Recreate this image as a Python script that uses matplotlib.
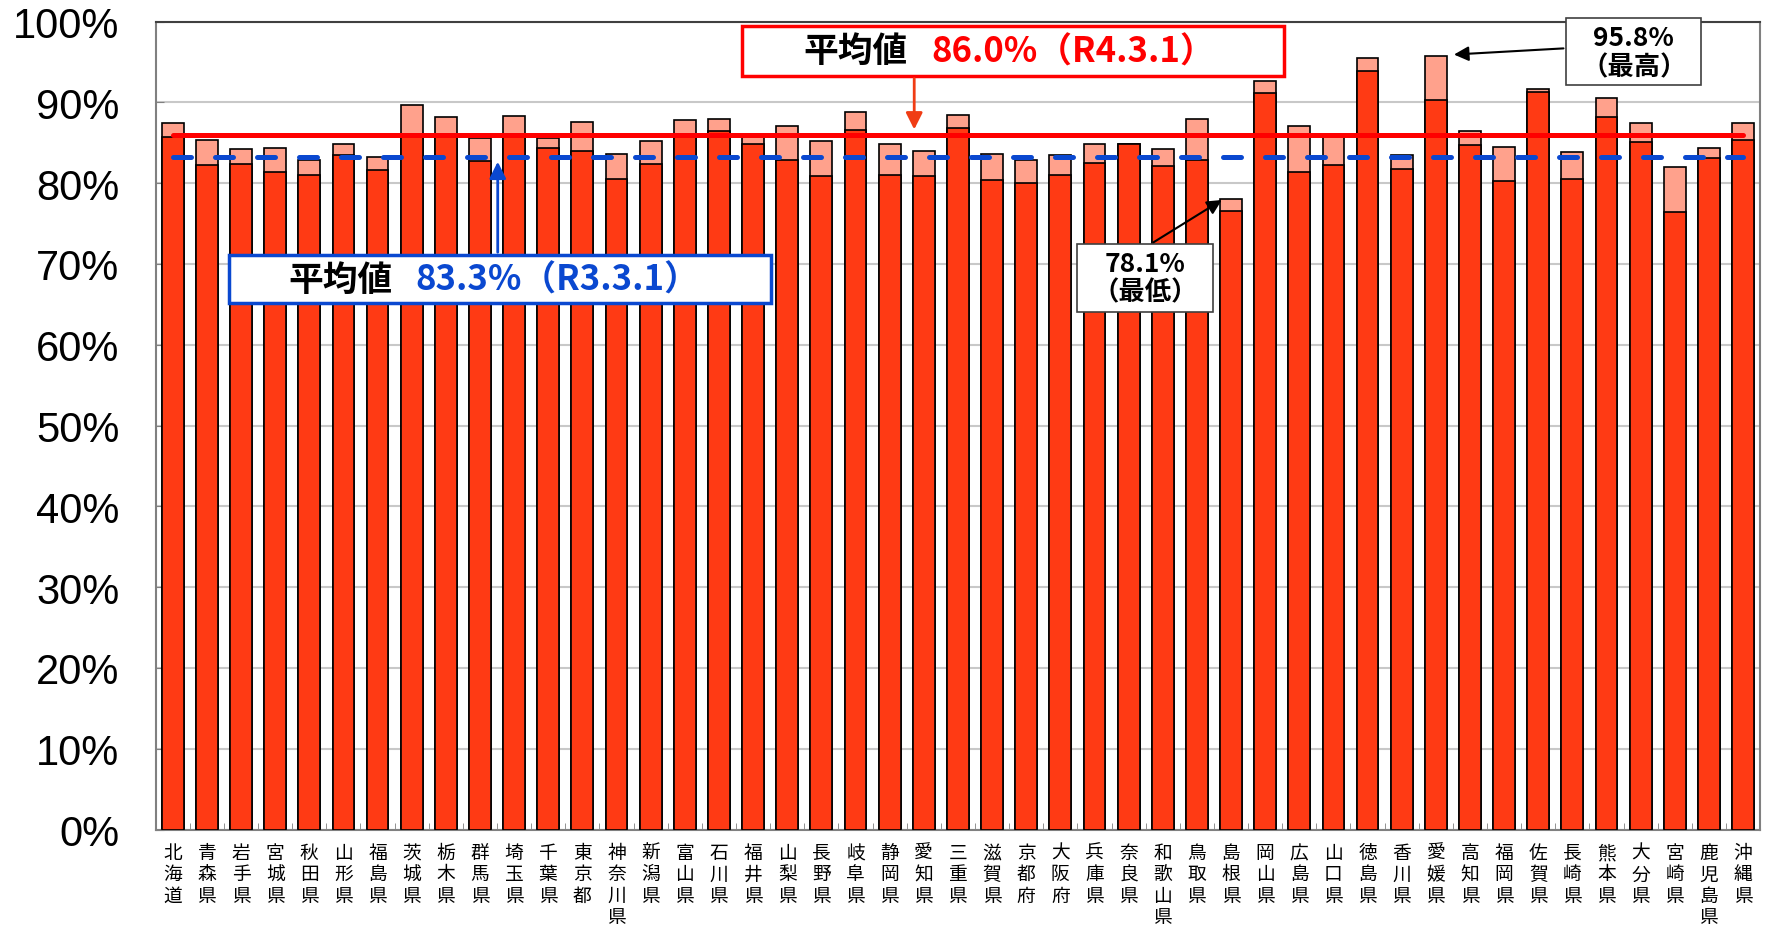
import numpy as np
import matplotlib
matplotlib.use("Agg")
from matplotlib import pyplot as plt
from matplotlib.patches import Rectangle

plt.rcParams['font.family'] = ['Noto Sans CJK JP', 'DejaVu Sans']

prefs = ['北海道', '青森県', '岩手県', '宮城県', '秋田県', '山形県', '福島県', '茨城県',
         '栃木県', '群馬県', '埼玉県', '千葉県', '東京都', '神奈川県', '新潟県', '富山県',
         '石川県', '福井県', '山梨県', '長野県', '岐阜県', '静岡県', '愛知県', '三重県',
         '滋賀県', '京都府', '大阪府', '兵庫県', '奈良県', '和歌山県', '鳥取県', '島根県',
         '岡山県', '広島県', '山口県', '徳島県', '香川県', '愛媛県', '高知県', '福岡県',
         '佐賀県', '長崎県', '熊本県', '大分県', '宮崎県', '鹿児島県', '沖縄県']

# R4.3.1 (pink top) and R3.3.1 (dark part)
r4 = [87.4, 85.3, 84.2, 84.3, 82.9, 84.8, 83.3, 89.7, 88.2, 85.6, 88.3, 85.6,
      87.6, 83.6, 85.2, 87.8, 87.9, 85.9, 87.1, 85.2, 88.8, 84.8, 84.0, 88.4,
      83.6, 82.9, 83.5, 84.9, 84.9, 84.2, 88.0, 78.1, 92.6, 87.1, 85.9, 95.5,
      83.5, 95.8, 86.4, 84.5, 91.7, 83.9, 90.5, 87.4, 82.0, 84.4, 87.5]
r3 = [85.7, 82.2, 82.4, 81.4, 81.0, 83.5, 81.6, 86.0, 86.0, 82.7, 85.7, 84.4,
      84.0, 80.5, 82.4, 86.0, 86.5, 84.9, 82.9, 80.9, 86.6, 81.0, 80.9, 86.8,
      80.4, 80.0, 81.0, 82.5, 84.9, 82.1, 82.9, 76.5, 91.1, 81.4, 82.3, 93.9,
      81.7, 90.3, 84.7, 80.3, 91.3, 80.5, 88.2, 85.1, 76.4, 83.1, 85.3]

avg_r4 = 86.0
avg_r3 = 83.3
yticks = [0, 10, 20, 30, 40, 50, 60, 70, 80, 90, 100]

dark = '#FF3A14'
pink = '#FFA18C'
blue = '#0A48D0'

fig = plt.figure(figsize=(17.69, 9.29), dpi=100)
ax = fig.add_axes([0.088, 0.106, 0.907, 0.8697])

x = np.arange(len(prefs))
ax.bar(x, r4, width=0.64, color=pink, edgecolor='black', linewidth=1.2, zorder=2)
ax.bar(x, r3, width=0.64, color=dark, edgecolor='black', linewidth=1.2, zorder=3)

# average lines
ax.plot([x[0], x[-1]], [avg_r4, avg_r4], color='#FF0000', lw=3.6,
        solid_capstyle='round', zorder=5)
ax.plot([x[0], x[-1]], [avg_r3, avg_r3], color=blue, lw=3.6,
        dashes=(3.6, 4.8), dash_capstyle='round', zorder=5)

ax.set_xlim(-0.5, 46.5)
ax.set_ylim(0, 100)
ax.set_yticks(yticks)
ax.set_yticklabels([f'{v}%' for v in yticks], fontsize=30,
                   family=['Liberation Sans', 'DejaVu Sans'])
ax.set_xticks(x)
ax.set_xticklabels(['\n'.join(p) for p in prefs], fontsize=13.5, linespacing=1.02,
                   va='top')
ax.set_xticks(np.arange(-0.5, 47, 1), minor=True)
ax.tick_params(axis='y', direction='in', length=6, color='#808080', pad=26)
ax.tick_params(axis='x', which='major', length=0, pad=9)
ax.tick_params(axis='x', which='minor', direction='in', length=5, color='#808080')
ax.grid(axis='y', color='#C8C8C8', lw=1.5, zorder=0)
ax.set_axisbelow(True)
for s in ax.spines.values():
    s.set_color('#808080')
    s.set_linewidth(1.5)
ax.spines['top'].set_color('#404040')

# R4 average box
ax.add_patch(Rectangle((16.68, 93.3), 15.88, 6.2, facecolor='white',
                       edgecolor='#FF0000', lw=2.5, zorder=6, clip_on=False))
ax.text(21.54, 96.4, '平均値', ha='right', va='center', fontsize=25,
        fontweight='bold', zorder=7)
ax.text(22.22, 96.4, '86.0%（R4.3.1）', ha='left', va='center', fontsize=25,
        fontweight='bold', color='#FF0000', zorder=7)
ax.annotate('', xy=(21.72, avg_r4 + 0.3), xytext=(21.72, 93.3),
            arrowprops=dict(arrowstyle='-|>', color='#F03C14', lw=2,
                            mutation_scale=25), zorder=6)

# R3 average box
ax.add_patch(Rectangle((1.65, 65.2), 15.88, 5.9, facecolor='white',
                       edgecolor=blue, lw=2.5, zorder=6))
ax.text(6.45, 68.1, '平均値', ha='right', va='center', fontsize=25,
        fontweight='bold', zorder=7)
ax.text(7.1, 68.1, '83.3%（R3.3.1）', ha='left', va='center', fontsize=25,
        fontweight='bold', color=blue, zorder=7)
ax.annotate('', xy=(9.52, avg_r3 - 0.3), xytext=(9.52, 71.1),
            arrowprops=dict(arrowstyle='-|>', color=blue, lw=2,
                            mutation_scale=25), zorder=6)

# min box
ax.add_patch(Rectangle((26.49, 64.1), 3.99, 8.4, facecolor='white',
                       edgecolor='#404040', lw=1.2, zorder=6))
ax.text(28.48, 68.3, '78.1%\n（最低）', ha='center', va='center', fontsize=19,
        fontweight='bold', linespacing=1.1, zorder=7)
ax.annotate('', xy=(30.8, 78.1), xytext=(28.66, 72.5),
            arrowprops=dict(arrowstyle='-|>', color='black', lw=1.5,
                            mutation_scale=22), zorder=6)

# max box
ax.add_patch(Rectangle((40.82, 92.1), 3.96, 8.3, facecolor='white',
                       edgecolor='#404040', lw=1.2, zorder=6, clip_on=False))
ax.text(42.8, 96.25, '95.8%\n（最高）', ha='center', va='center', fontsize=19,
        fontweight='bold', linespacing=1.1, zorder=7)
ax.annotate('', xy=(37.45, 95.9), xytext=(40.82, 96.7),
            arrowprops=dict(arrowstyle='-|>', color='black', lw=1.5,
                            mutation_scale=22), zorder=6)

fig.savefig('out.png', dpi=100)
